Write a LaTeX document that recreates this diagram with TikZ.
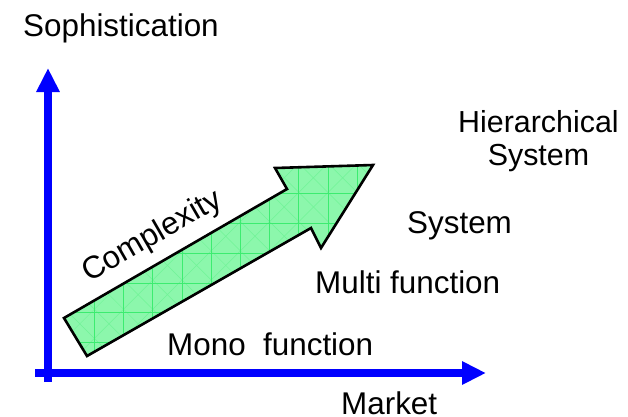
\documentclass[tikz,border=0pt]{standalone}
\usepackage{fontspec}
\setmainfont{Liberation Sans}
\usetikzlibrary{arrows.meta}
\definecolor{axisblue}{RGB}{0,0,255}
\definecolor{arrowgreen}{RGB}{140,247,172}
\definecolor{gridgreen}{RGB}{60,236,112}
\tikzset{
  axis/.style={draw=axisblue, line width=8pt, -{Triangle[length=24pt,width=22pt]}},
  label/.style={inner sep=0pt, font=\fontsize{31.4}{33}\selectfont},
  gridline/.style={gridgreen, line width=0.8pt},
  diagline/.style={gridgreen!35!arrowgreen, line width=0.5pt},
}
\begin{document}
\begin{tikzpicture}[x=1pt,y=-1pt]
\useasboundingbox (0,0) rectangle (628,416);

% axes
\coordinate (xstart) at (35,373);
\coordinate (xend) at (486,373);
\coordinate (ystart) at (48,382);
\coordinate (yend) at (48,68);
\draw[axis] (xstart) -- (xend);
\draw[axis] (ystart) -- (yend);

% the big "complexity" arrow
\def\bigarrow{(64,318) -- (287,189) -- (275,168) -- (373,165) -- (321,248) -- (311,228) -- (87,356) -- cycle}
\fill[arrowgreen] \bigarrow;
\begin{scope}
  \clip \bigarrow;
  \foreach \k in {-12,...,12} {
    \draw[diagline] ({36+29.2*\k},134) -- ++(400,400);
    \draw[diagline] ({36+29.2*\k},134) -- ++(-400,400);
  }
  \foreach \i in {0,...,12} {
    \draw[gridline] ({36+29.2*\i},150) -- ({36+29.2*\i},370);
  }
  \foreach \j in {0,...,8} {
    \draw[gridline] (50,{134+29.8*\j}) -- (390,{134+29.8*\j});
  }
\end{scope}
\draw[black, line width=2.6pt, line join=miter] \bigarrow;

% labels
\node[label, anchor=base west] (soph) at (23,36) {Sophistication};
\node[label, anchor=base west] (market) at (341,414) {Market};
\node[label, anchor=base west, rotate=30] (cplx) at (89,283) {Complexity};
\node[label, anchor=base west] (mono) at (167,355) {Mono\ \ function};
\node[label, anchor=base west] (multi) at (315,293) {Multi function};
\node[label, anchor=base west] (system) at (407,233) {System};
\node[inner sep=0pt, anchor=base west, font=\fontsize{30.4}{33}\selectfont] (hier) at (458,132) {Hierarchical};
\node[inner sep=0pt, anchor=base, font=\fontsize{30.4}{33}\selectfont] (hsys) at (hier.base |- 0,165) {System};
\end{tikzpicture}
\end{document}
